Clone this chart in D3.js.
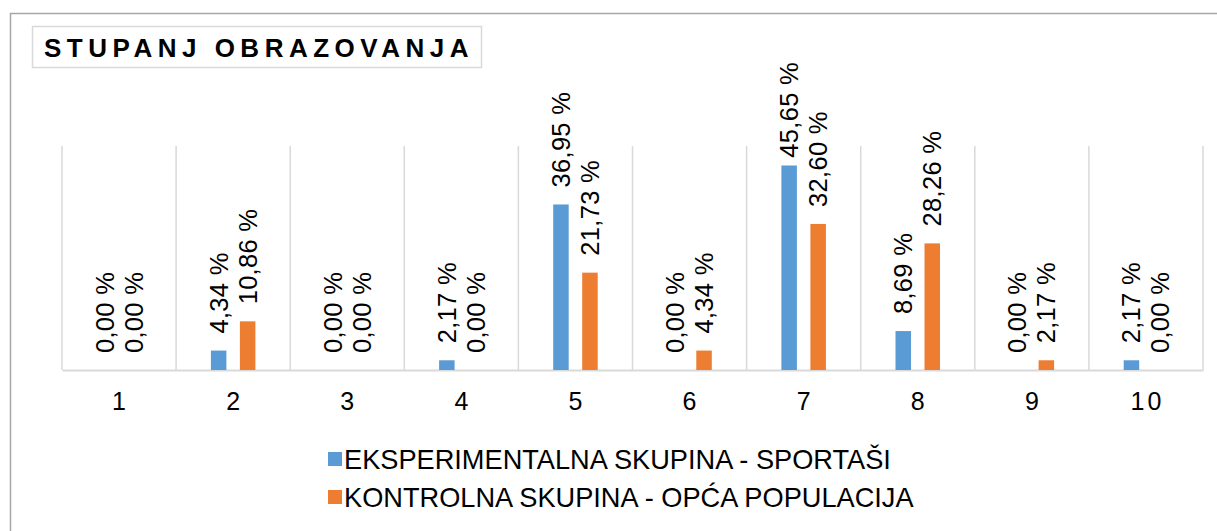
<html>
<head>
<meta charset="utf-8">
<script src="https://d3js.org/d3.v7.min.js"></script>
<style>
body { margin: 0; background: #fff; }
text { font-family: "Liberation Sans", Arial, sans-serif; fill: #000; }
.title { font-size: 26px; font-weight: bold; letter-spacing: 5.5px; }
.label { font-size: 25.5px; letter-spacing: 0.3px; }
.tick text { font-size: 25px; letter-spacing: 3px; }
.legend text { font-size: 27.2px; }
</style>
</head>
<body>
<div id="chart"></div>
<script>

var categories = ["1", "2", "3", "4", "5", "6", "7", "8", "9", "10"];
var seriesNames = ["EKSPERIMENTALNA SKUPINA - SPORTAŠI", "KONTROLNA SKUPINA - OPĆA POPULACIJA"];
var sportasi = [0, 4.34, 0, 2.17, 36.95, 0, 45.65, 8.69, 0, 2.17];
var populacija = [0, 10.86, 0, 0, 21.73, 4.34, 32.60, 28.26, 2.17, 0];
var colors = ["#5b9bd5", "#ed7d31"];

var width = 1217, height = 531;
var plotLeft = 62, plotRight = 1203, plotTop = 146, plotBottom = 370;
var barW = 15.5;

var svg = d3.select("#chart").append("svg")
  .attr("width", width).attr("height", height);

// chart frame
svg.append("rect")
  .attr("x", 10.5).attr("y", 13.5)
  .attr("width", 1220).attr("height", 540)
  .style("fill", "none").style("stroke", "#a6a6a6").style("stroke-width", 1.5);

// title box
svg.append("rect")
  .attr("x", 32.5).attr("y", 26.5).attr("width", 449).attr("height", 41)
  .style("fill", "none").style("stroke", "#d9d9d9").style("stroke-width", 1.5);
svg.append("text").attr("class", "title")
  .attr("x", 44).attr("y", 57)
  .text("STUPANJ OBRAZOVANJA");

var x = d3.scaleBand().domain(categories).range([plotLeft, plotRight]);
var xSub = d3.scaleBand().domain([0, 1]).range([-29, 29]);
var y = d3.scaleLinear().domain([0, 50]).range([plotBottom, plotTop]);

// vertical gridlines at category edges
var edges = categories.map(function (c) { return x(c); }).concat([plotRight]);
svg.append("g").selectAll("line").data(edges).enter().append("line")
  .attr("x1", function (d) { return d; }).attr("x2", function (d) { return d; })
  .attr("y1", plotTop).attr("y2", plotBottom)
  .style("stroke", "#d9d9d9").style("stroke-width", 1.5);

var xAxis = d3.axisBottom(x).tickSize(0).tickPadding(22);
var axisG = svg.append("g")
  .attr("transform", "translate(0," + plotBottom + ")")
  .call(xAxis);
axisG.select(".domain").style("stroke", "#d9d9d9").style("stroke-width", 2);
axisG.attr("font-size", null).attr("font-family", null);
// letter-spacing adds trailing space, shift back to centre
axisG.selectAll(".tick text").attr("dx", 1.5);

var rows = [];
[sportasi, populacija].forEach(function (vals, s) {
  vals.forEach(function (v, i) {
    rows.push({ cat: categories[i], s: s, v: v });
  });
});

function cx(d) { return x(d.cat) + x.bandwidth() / 2 + xSub(d.s) + xSub.bandwidth() / 2; }

svg.append("g").selectAll("rect").data(rows.filter(function (d) { return d.v > 0; }))
  .enter().append("rect")
  .attr("x", function (d) { return cx(d) - barW / 2; })
  .attr("y", function (d) { return y(d.v); })
  .attr("width", barW)
  .attr("height", function (d) { return plotBottom - y(d.v); })
  .style("fill", function (d) { return colors[d.s]; });

var labels = svg.append("g").selectAll("text").data(rows).enter().append("text")
  .attr("class", "label")
  .attr("dominant-baseline", "central")
  .text(function (d) { return d.v.toFixed(2).replace(".", ",") + " %"; });

// labels sit above the bar; keep them inside the chart top
labels.each(function (d) {
  var len = this.getComputedTextLength();
  var start = Math.max(y(d.v) - 17, 62 + len);
  d3.select(this).attr("transform", "translate(" + cx(d) + "," + start + ") rotate(-90)");
});

// legend
var legend = svg.append("g").attr("class", "legend");
seriesNames.forEach(function (name, i) {
  var ly = 452 + i * 38;
  legend.append("rect").attr("x", 328).attr("y", ly)
    .attr("width", 14).attr("height", 14).style("fill", colors[i]);
  legend.append("text").attr("x", 344).attr("y", ly + 16.5).text(name);
});

</script>
</body>
</html>
